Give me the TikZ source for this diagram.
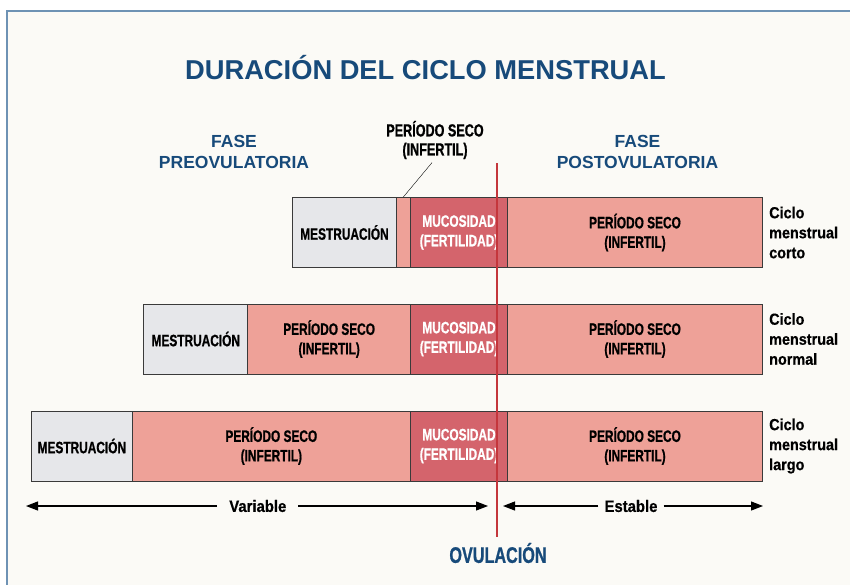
\documentclass[tikz,border=0pt]{standalone}
\usepackage{fontspec}
\setmainfont{Liberation Sans}
\newfontfamily\condfont[FakeStretch=0.72, BoldFeatures={FakeBold=0.8}]{Liberation Sans}
\newfontfamily\lowfont[FakeStretch=0.9, BoldFeatures={FakeBold=0.6}]{Liberation Sans}
\usetikzlibrary{arrows.meta, positioning}
\definecolor{CycleBlue}{RGB}{23, 74, 122}
\definecolor{CycleCream}{RGB}{251, 250, 246}
\definecolor{CycleFrame}{RGB}{110, 146, 180}
\definecolor{CycleEdge}{RGB}{58, 58, 58}
\definecolor{MensGray}{RGB}{230, 231, 234}
\definecolor{DrySalmon}{RGB}{238, 161, 152}
\definecolor{MucoRed}{RGB}{212, 100, 108}
\definecolor{OvuRed}{RGB}{196, 54, 60}

\begin{document}
\begin{tikzpicture}[x=1pt, y=-1pt,
    seg/.style={draw=CycleEdge, line width=1pt, minimum height=70pt, inner sep=0pt,
        anchor=north west, align=center, font=\condfont\bfseries\fontsize{16.5}{19.5}\selectfont},
    mens/.style={seg, fill=MensGray},
    dry/.style={seg, fill=DrySalmon},
    muco/.style={seg, fill=MucoRed, text=white},
    phase/.style={text=CycleBlue, align=center, font=\bfseries\fontsize{17.5}{20.3}\selectfont},
    cyc/.style={right=6pt of #1, anchor=west, inner sep=0pt, align=left,
        font=\lowfont\bfseries\fontsize{16}{20}\selectfont},
    span/.style={inner ysep=0pt, font=\lowfont\bfseries\fontsize{16.5}{18}\selectfont},
    dimline/.style={-{Triangle[length=12pt, width=9pt]}, line width=1.1pt}]
    \useasboundingbox (0,0) rectangle (850,584);
    \fill[white] (0,0) rectangle (850,584);
    \draw[CycleFrame, line width=2pt, fill=CycleCream] (7,10.5) rectangle (870,600);

    % headings
    \node[phase, font=\bfseries\fontsize{27.3}{32}\selectfont] (title) at (425.5,68) {DURACIÓN DEL CICLO MENSTRUAL};
    \node[phase] (pre) at (234,152) {FASE\\PREOVULATORIA};
    \node[phase] (post) at (637.5,152) {FASE\\POSTOVULATORIA};
    \node[align=center, font=\condfont\bfseries\fontsize{17.5}{19}\selectfont] (drylab) at (435,140) {PERÍODO SECO\\(INFERTIL)};

    % short cycle
    \node[mens, minimum width=103.4pt] (m1) at (292.3,197) {MESTRUACIÓN};
    \node[dry, minimum width=14.3pt] (d1) at (395.7,197) {};
    % normal cycle
    \node[mens, minimum width=104pt] (m2) at (143.3,303.5) {MESTRUACIÓN};
    \node[dry, minimum width=162.7pt] (d2) at (247.3,303.5) {PERÍODO SECO\\(INFERTIL)};
    % long cycle
    \node[mens, minimum width=100.7pt] (m3) at (31,410.5) {MESTRUACIÓN};
    \node[dry, minimum width=278.3pt] (d3) at (131.7,410.5) {PERÍODO SECO\\(INFERTIL)};

    \foreach \r/\y in {1/197, 2/303.5, 3/410.5} {
        \node[muco, minimum width=97pt] (mu\r) at (410,\y) {MUCOSIDAD\\(FERTILIDAD)};
        \node[dry, minimum width=255pt] (p\r) at (507,\y) {PERÍODO SECO\\(INFERTIL)};
    }
    \node[cyc=p1] (c1) {Ciclo\\menstrual\\corto};
    \node[cyc=p2] (c2) {Ciclo\\menstrual\\normal};
    \node[cyc=p3] (c3) {Ciclo\\menstrual\\largo};

    \draw[thin] (d1.north) -- ([xshift=-3pt]drylab.south);

    % ovulation
    \coordinate (ovtop) at (497,163);
    \coordinate (ovbot) at (497,537);
    \draw[OvuRed, line width=2.5pt] (ovtop) -- (ovbot);
    \node[text=CycleBlue, font=\condfont\bfseries\fontsize{22.5}{24}\selectfont] (ovu) at (498,553) {OVULACIÓN};

    % variable / stable
    \coordinate (varL) at (26,506);
    \coordinate (varR) at (488,506);
    \coordinate (estL) at (503,506);
    \coordinate (estR) at (763,506);
    \node[span, inner xsep=12pt] (var) at (257.8,506) {Variable};
    \node[span, inner xsep=6pt] (est) at (631,506) {Estable};
    \draw[dimline] (var) -- (varL);
    \draw[dimline] (var) -- (varR);
    \draw[dimline] (est) -- (estL);
    \draw[dimline] (est) -- (estR);
\end{tikzpicture}
\end{document}
